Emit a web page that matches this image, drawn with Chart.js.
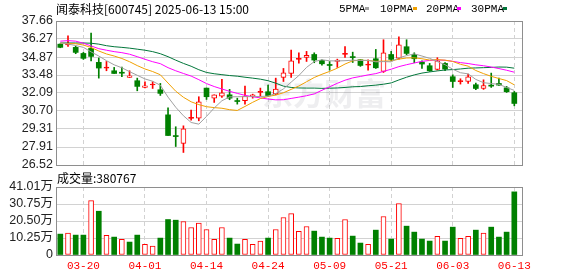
<!DOCTYPE html>
<html><head><meta charset="utf-8">
<script src="https://cdn.jsdelivr.net/npm/chart.js@4.4.1/dist/chart.umd.min.js"></script>
<style>
html,body{margin:0;padding:0;background:#fff;}
#wrap{position:relative;width:578px;height:276px;overflow:hidden;background:#fff;}
canvas{position:absolute;left:0;}
#c1{top:0;} #c2{top:172px;}
</style></head><body>
<div id="wrap"><canvas id="c1" width="578" height="176"></canvas><canvas id="c2" width="578" height="104"></canvas></div>
<script>
// ---------------- DATA ----------------
const titleText = '闻泰科技[600745] 2025-06-13 15:00';
const volText = '成交量:380767';
const legendNames = ['5PMA', '10PMA', '20PMA', '30PMA'];
const dates = ['03-17','03-18','03-19','03-20','03-21','03-24','03-25','03-26','03-27','03-28',
 '03-31','04-01','04-02','04-03','04-07','04-08','04-09','04-10','04-11','04-14',
 '04-15','04-16','04-17','04-18','04-21','04-22','04-23','04-24','04-25','04-28',
 '04-29','04-30','05-06','05-07','05-08','05-09','05-12','05-13','05-14','05-15',
 '05-16','05-19','05-20','05-21','05-22','05-23','05-26','05-27','05-28','05-29',
 '05-30','06-03','06-04','06-05','06-06','06-09','06-10','06-11','06-12','06-13'];
const opens = [35.87,35.80,35.62,35.15,35.54,34.46,34.02,33.81,33.64,33.29,
 33.04,32.52,32.71,32.34,30.40,28.75,28.19,30.13,30.15,32.47,
 31.69,31.85,31.95,31.45,31.49,31.80,32.14,32.19,32.01,33.29,
 33.60,34.69,34.84,35.07,34.61,34.24,34.53,35.08,34.85,34.66,
 34.25,34.74,33.76,35.07,34.79,35.67,35.07,34.48,34.20,33.91,
 34.38,33.35,32.97,32.98,32.73,32.44,32.70,32.83,32.49,32.11];
const highs = [35.90,36.52,35.72,35.23,36.73,34.80,34.53,34.07,34.09,33.81,
 33.24,32.96,32.96,32.83,30.95,29.48,29.55,30.77,31.80,32.47,
 31.95,33.14,32.37,31.69,32.62,32.00,32.47,32.70,33.24,33.99,
 35.41,35.20,35.31,35.20,34.66,34.53,34.71,35.69,35.25,34.66,
 34.66,35.46,36.21,35.31,36.44,36.21,35.20,34.58,34.38,34.82,
 34.45,33.50,33.19,33.55,32.86,33.11,33.63,33.24,32.60,32.21];
const lows = [35.59,35.69,35.13,34.69,34.58,33.24,33.81,33.60,33.35,33.29,
 32.26,32.49,32.44,31.90,28.80,27.95,27.49,29.99,29.94,31.59,
 31.36,31.75,31.57,31.23,31.23,31.69,31.85,31.80,31.95,32.98,
 33.29,34.40,34.53,34.43,34.25,33.86,34.07,34.84,34.45,34.15,
 33.86,33.99,33.68,34.58,34.71,35.05,34.43,33.99,33.76,33.86,
 33.81,32.52,32.78,32.83,32.34,32.37,32.52,32.68,32.13,31.10];
const closes = [35.62,35.83,35.23,34.77,34.92,34.02,34.06,33.60,33.62,33.42,
 32.60,32.64,32.74,32.06,28.80,28.72,29.32,30.16,31.41,31.80,
 31.95,32.11,31.69,31.43,31.85,31.95,32.16,31.88,32.39,33.66,
 34.58,34.71,35.00,34.64,34.35,34.22,34.64,35.10,34.83,34.22,
 34.33,34.04,35.20,34.69,35.82,35.15,34.74,34.33,33.81,34.58,
 33.94,32.98,33.00,33.35,32.44,32.67,32.62,32.70,32.19,31.28];
// volume in 万 (10k shares)
const volumes = [12.6,13.2,12.0,12.0,32.8,26.4,11.8,10.8,9.4,7.8,
 12.0,6.4,5.4,10.2,21.4,21.0,20.2,16.6,19.2,15.4,
 9.4,16.6,10.2,6.6,9.4,6.4,8.4,10.2,15.4,22.6,
 25.0,14.2,17.2,14.4,10.8,10.2,10.0,21.4,11.4,7.2,
 6.4,15.0,23.2,9.6,31.0,17.4,13.8,9.6,8.4,11.2,
 8.4,16.8,10.0,11.2,15.0,13.2,16.8,10.8,13.8,38.08];
// 1 = red (up) volume bar, 0 = green
const volUp = [0,1,0,0,1,0,1,0,1,0, 0,1,1,0,0,0,1,1,1,1, 1,1,0,0,1,1,1,0,1,1,
 1,1,1,0,0,0,1,1,0,0, 1,0,1,0,1,0,0,0,0,1, 0,0,1,1,0,1,0,0,0,0];
const ma5 = [35.96,35.88,35.76,35.62,35.27,34.95,34.59,34.27,34.04,33.74,
 33.46,33.18,33.00,32.69,31.77,30.99,30.33,29.81,29.68,30.28,
 30.93,31.49,31.79,31.80,31.81,31.81,31.82,31.85,32.05,32.41,
 32.93,33.44,34.07,34.52,34.66,34.58,34.57,34.59,34.63,34.60,
 34.62,34.50,34.52,34.50,34.82,34.98,35.12,34.95,34.77,34.52,
 34.28,33.93,33.66,33.57,33.14,32.89,32.82,32.76,32.52,32.29];
const ma10 = [35.94,35.92,35.90,35.80,35.61,35.34,35.11,34.95,34.76,34.51,
 34.21,33.95,33.75,33.50,32.86,32.23,31.76,31.41,31.19,31.03,
 30.96,30.91,30.80,30.74,31.05,31.37,31.66,31.82,31.93,32.11,
 32.37,32.63,32.96,33.29,33.54,33.76,34.01,34.33,34.58,34.63,
 34.60,34.54,34.56,34.57,34.71,34.80,34.81,34.74,34.64,34.67,
 34.63,34.53,34.31,34.17,33.83,33.59,33.38,33.21,33.05,32.72];
const ma20 = [36.10,36.14,36.10,35.94,35.73,35.52,35.40,35.29,35.21,35.09,
 34.90,34.70,34.51,34.36,34.05,33.81,33.60,33.40,33.12,32.82,
 32.59,32.40,32.22,32.06,31.91,31.80,31.71,31.62,31.56,31.57,
 31.67,31.77,31.88,32.02,32.30,32.57,32.84,33.08,33.26,33.37,
 33.49,33.59,33.76,33.93,34.13,34.28,34.41,34.54,34.61,34.65,
 34.62,34.54,34.44,34.37,34.27,34.20,34.10,33.98,33.85,33.70];
const ma30 = [35.96,35.96,35.96,35.96,35.94,35.87,35.75,35.67,35.62,35.56,
 35.48,35.40,35.29,35.13,34.90,34.63,34.38,34.16,33.89,33.68,
 33.58,33.51,33.44,33.39,33.31,33.24,33.16,33.04,32.85,32.62,
 32.52,32.48,32.47,32.47,32.45,32.46,32.48,32.52,32.57,32.59,
 32.65,32.70,32.77,32.87,33.10,33.31,33.49,33.63,33.72,33.80,
 33.87,33.90,33.95,34.01,34.03,34.05,34.07,34.10,34.09,34.01];
const priceTicks = [26.52, 27.91, 29.31, 30.70, 32.09, 33.48, 34.87, 36.27, 37.66];
const volTicks = [0, 10.25, 20.50, 30.75, 41.01];
const volTickLabels = ['0', '10.25万', '20.50万', '30.75万', '41.01万'];
const xTickIdx = [3, 11, 19, 27, 35, 43, 51, 59];

// ---------------- STYLE ----------------
const RED = '#ff0000', GREEN = '#008000';
const MA_COLORS = ['#a0a0a0', '#f0a000', '#ff00ff', '#00763a'];
const GRID = '#d2d2d2', FRAME = '#8e8e8e';
const X_MIN = -0.56, X_MAX = 60.0;

const isUp = i => closes[i] >= opens[i];

const framePlugin = {
  id: 'frame',
  afterDatasetsDraw(chart) {
    const {ctx, chartArea: a} = chart;
    ctx.save();
    ctx.strokeStyle = FRAME; ctx.lineWidth = 1;
    const l = Math.round(a.left), t = Math.round(a.top), r = Math.round(a.right), b = Math.round(a.bottom);
    ctx.strokeRect(l + 0.5, t + 0.5, r - l, b - t);
    ctx.restore();
  }
};

const topTextPlugin = {
  id: 'topText',
  beforeDatasetsDraw(chart) {
    const ctx = chart.ctx;
    ctx.save();
    ctx.fillStyle = 'rgba(120,120,140,0.13)';
    ctx.font = 'bold 31px "Noto Sans CJK SC"';
    ctx.textBaseline = 'middle'; ctx.textAlign = 'left';
    ctx.fillText('东方财富', 262, 93);
    ctx.restore();
  },
  afterDraw(chart) {
    const ctx = chart.ctx;
    ctx.save();
    ctx.fillStyle = '#000';
    ctx.font = '12px "Noto Sans CJK SC"';
    ctx.textBaseline = 'middle'; ctx.textAlign = 'left';
    ctx.fillText(titleText, 56, 9);
    const lx = [339, 380, 426, 471];
    const mx = [365, 413, 457, 503];
    ctx.font = '11px "Liberation Mono"';
    legendNames.forEach((n, k) => {
      ctx.fillStyle = '#000';
      ctx.fillText(n, lx[k], 9);
      ctx.fillStyle = MA_COLORS[k];
      ctx.fillRect(mx[k], 7, 4, 3);
    });
    ctx.restore();
  }
};

const volTextPlugin = {
  id: 'volText',
  afterDraw(chart) {
    const ctx = chart.ctx;
    ctx.save();
    ctx.fillStyle = '#000';
    ctx.font = '12px "Noto Sans CJK SC"';
    ctx.textBaseline = 'middle'; ctx.textAlign = 'left';
    ctx.fillText(volText, 57, 6);
    ctx.restore();
  }
};

function xScale(showLabels) {
  return {
    type: 'linear', min: X_MIN, max: X_MAX, offset: false,
    afterBuildTicks: s => { s.ticks = xTickIdx.map(v => ({value: v})); },
    afterFit: s => { s.height = showLabels ? 21 : 0; },
    grid: {color: GRID, drawTicks: false, offset: false},
    border: {display: false, dash: [4, 3]},
    ticks: {
      display: showLabels, color: RED, padding: 4, maxRotation: 0, autoSkip: false,
      font: {family: 'Liberation Mono', size: 11},
      callback: v => dates[v]
    }
  };
}

const pricePts = arr => arr.map((v, i) => ({x: i, y: v}));
const lineDs = (arr, k) => ({
  type: 'line', data: pricePts(arr), borderColor: MA_COLORS[k], borderWidth: 1,
  pointRadius: 0, tension: 0, order: 0, fill: false
});

new Chart(document.getElementById('c1'), {
  type: 'bar',
  data: {
    datasets: [
      lineDs(ma5, 0), lineDs(ma10, 1), lineDs(ma20, 2), lineDs(ma30, 3),
      {
        data: dates.map((d, i) => ({x: i, y: [opens[i], closes[i]]})),
        barThickness: 5, grouped: false, order: 1, minBarLength: 1,
        borderSkipped: false,
        backgroundColor: c => isUp(c.dataIndex) ? (Math.abs(closes[c.dataIndex] - opens[c.dataIndex]) < 0.1 ? RED : '#ffffff') : GREEN,
        borderColor: c => isUp(c.dataIndex) ? RED : GREEN,
        borderWidth: c => isUp(c.dataIndex) ? 1 : 0
      },
      {
        data: dates.map((d, i) => ({x: i, y: [lows[i], highs[i]]})),
        barThickness: 1, grouped: false, order: 2, borderSkipped: false,
        backgroundColor: c => isUp(c.dataIndex) ? RED : GREEN
      }
    ]
  },
  options: {
    responsive: false, animation: false, devicePixelRatio: 1,
    layout: {padding: {left: 0, right: 56, top: 21, bottom: 11}},
    plugins: {legend: {display: false}, tooltip: {enabled: false}},
    scales: {
      x: xScale(false),
      y: {
        min: 26.52, max: 37.66,
        afterBuildTicks: s => { s.ticks = priceTicks.map(v => ({value: v})); },
        afterFit: s => { s.width = 56; },
        grid: {color: GRID, drawTicks: false},
        border: {display: false},
        ticks: {color: '#222', padding: 3, autoSkip: false, font: {family: 'Liberation Sans', size: 12.5},
          callback: v => v.toFixed(2)}
      }
    }
  },
  plugins: [framePlugin, topTextPlugin]
});

new Chart(document.getElementById('c2'), {
  type: 'bar',
  data: {
    datasets: [{
      data: volumes.map((v, i) => ({x: i, y: v})),
      barThickness: 5, borderSkipped: false,
      backgroundColor: c => volUp[c.dataIndex] ? '#ffffff' : GREEN,
      borderColor: c => volUp[c.dataIndex] ? RED : GREEN,
      borderWidth: c => volUp[c.dataIndex] ? 1 : 0
    }]
  },
  options: {
    responsive: false, animation: false, devicePixelRatio: 1,
    layout: {padding: {left: 0, right: 56, top: 15, bottom: 0}},
    plugins: {legend: {display: false}, tooltip: {enabled: false}},
    scales: {
      x: xScale(true),
      y: {
        min: 0, max: 41.01,
        afterBuildTicks: s => { s.ticks = volTicks.map(v => ({value: v})); },
        afterFit: s => { s.width = 56; },
        grid: {color: GRID, drawTicks: false},
        border: {display: false},
        ticks: {color: '#222', padding: 3, autoSkip: false, font: {family: 'Liberation Sans, Noto Sans CJK SC', size: 12.5},
          callback: v => volTickLabels[volTicks.indexOf(v)]}
      }
    }
  },
  plugins: [framePlugin, volTextPlugin]
});
</script>
</body></html>
